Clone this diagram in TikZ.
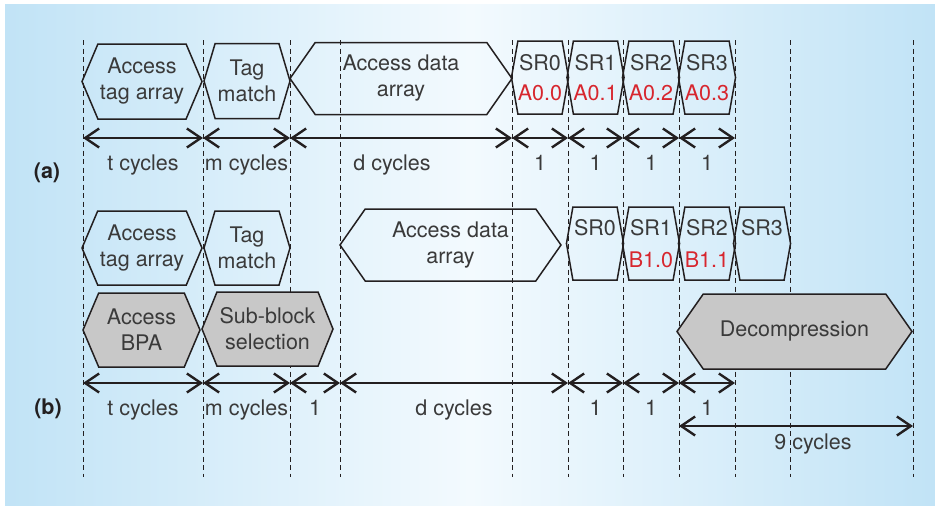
\documentclass[tikz,border=0pt]{standalone}
\usepackage{fontspec}
\setmainfont{TeX Gyre Heros}
\usetikzlibrary{arrows.meta,shapes.symbols}
\definecolor{ink}{HTML}{231F20}
\definecolor{txt}{HTML}{3A3A3A}
\definecolor{srred}{HTML}{D7262E}
\definecolor{bpgray}{HTML}{C8C8C8}
\definecolor{bgblue}{HTML}{C1E3F6}
\definecolor{bgwhite}{HTML}{F3FAFE}
\tikzset{hx/.style={shape=signal, signal to=east and west, draw=ink, line width=1.5pt, text=txt, align=center, inner sep=0pt, font=\fontsize{21.5}{26}\selectfont}}
\tikzset{gr/.style={fill=bpgray}}
\tikzset{sr/.style={hx, signal pointer angle=160, minimum width=56pt, minimum height=73pt}}
\tikzset{dm/.style={draw=ink, line width=2.4pt, >={Straight Barb[length=14pt,width=19pt]}, <->}}
\tikzset{lb/.style={yshift=-27pt, text=txt, inner sep=0pt, text height=15pt, text depth=4pt, font=\fontsize{21.5}{24}\selectfont}}
\tikzset{gd/.style={draw=ink, line width=0.8pt, dash pattern=on 5pt off 3.5pt}}

\begin{document}
\begin{tikzpicture}[x=1pt,y=-1pt]
                \useasboundingbox (0,0) rectangle (935,509);
                \fill[white] (0,0) rectangle (935,509);
                \shade[left color=bgblue, right color=bgblue, middle color=bgwhite] (5,4) rectangle (935,505);
                % grid
                \foreach \x [count=\i] in {83,203,290,340,512,568,623,679,735,790,913} {
                    \draw[gd] (\x,40) -- (\x,477);
                    \coordinate (a\i) at (\x,138);
                    \coordinate (b\i) at (\x,383);
                    \coordinate (c\i) at (\x,426);
                }
                % (a)
                \node[hx, signal pointer angle=134, minimum width=120pt, minimum height=75pt] (ta) at (142,81.5) {Access\\tag array};
                \node[hx, signal pointer angle=147, minimum width=86pt, minimum height=75pt] (tm) at (247,81) {Tag\\match};
                \node[hx, signal pointer angle=110, minimum width=222pt, minimum height=72pt] (da) at (401,78.5) {Access data\\array};
                \node[sr] (s0) at (540,77.5) {SR0\\[4pt]\textcolor{srred}{A0.0}};
                \node[sr] (s1) at (595.5,77.5) {SR1\\[4pt]\textcolor{srred}{A0.1}};
                \node[sr] (s2) at (651,77.5) {SR2\\[4pt]\textcolor{srred}{A0.2}};
                \node[sr] (s3) at (707,77.5) {SR3\\[4pt]\textcolor{srred}{A0.3}};
                \path (a1) edge[dm] node[lb]{t cycles} (a2);
                \path (a2) edge[dm] node[lb]{m cycles} (a3);
                \path (a3) edge[dm] node[lb, xshift=-9pt]{d cycles} (a5);
                \path (a5) edge[dm] node[lb]{1} (a6);
                \path (a6) edge[dm] node[lb]{1} (a7);
                \path (a7) edge[dm] node[lb]{1} (a8);
                \path (a8) edge[dm] node[lb]{1} (a9);
                \node[text=ink, font=\fontsize{21.5}{24}\selectfont\bfseries] (pa) at (47,173) {(a)};
                % (b)
                \node[hx, signal pointer angle=134, minimum width=120pt, minimum height=74pt] (tb) at (142,248) {Access\\tag array};
                \node[hx, signal pointer angle=147, minimum width=86pt, minimum height=74pt] (mb) at (247,248) {Tag\\match};
                \node[hx, signal pointer angle=110, minimum width=221pt, minimum height=72pt] (db) at (450.5,245) {Access data\\array};
                \node[sr] (r0) at (595,243.5) {SR0\\[6pt]\phantom{B1.0}};
                \node[sr] (r1) at (651,243.5) {SR1\\[6pt]\textcolor{srred}{B1.0}};
                \node[sr] (r2) at (707,243.5) {SR2\\[6pt]\textcolor{srred}{B1.1}};
                \node[sr] (r3) at (762,243.5) {SR3\\[6pt]\phantom{B1.1}};
                \node[hx, gr, signal pointer angle=134, minimum width=117pt, minimum height=74pt] (bpa) at (141.5,330) {Access\\BPA};
                \node[hx, gr, signal pointer angle=136, minimum width=131pt, minimum height=74pt] (sub) at (267.5,329) {Sub-block\\selection};
                \node[hx, gr, signal pointer angle=110, minimum width=235pt, minimum height=75pt] (dec) at (794.5,331.5) {Decompression};
                \path (b1) edge[dm] node[lb]{t cycles} (b2);
                \path (b2) edge[dm] node[lb]{m cycles} (b3);
                \path (b3) edge[dm] node[lb]{1} (b4);
                \path (b4) edge[dm] node[lb]{d cycles} (b6);
                \path (b6) edge[dm] node[lb]{1} (b7);
                \path (b7) edge[dm] node[lb]{1} (b8);
                \path (b8) edge[dm] node[lb]{1} (b9);
                \path (c8) edge[dm] node[lb, yshift=9pt, xshift=17pt]{9 cycles} (c11);
                \node[text=ink, font=\fontsize{21.5}{24}\selectfont\bfseries] (pb) at (48,409) {(b)};
            \end{tikzpicture}
\end{document}
